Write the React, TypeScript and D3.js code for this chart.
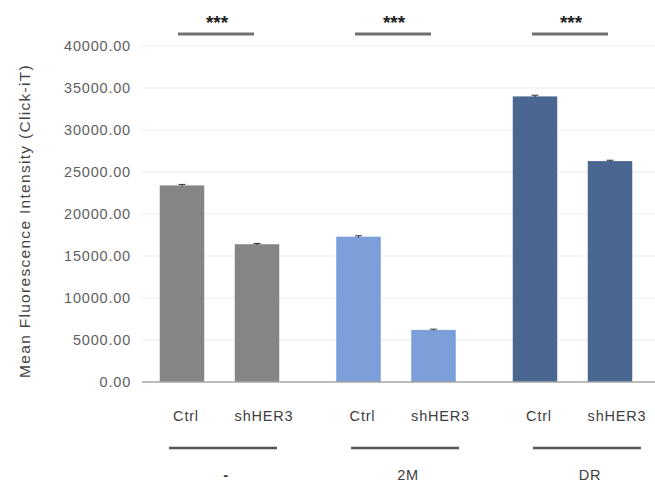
import React, { useEffect, useRef } from "react"
import * as d3 from "d3"

const groups = ["-", "2M", "DR"]
const conditions = ["Ctrl", "shHER3"]
const ctrlValues = [23400, 17300, 34000]
const shHER3Values = [16400, 6200, 26300]
const ctrlErrors = [120, 110, 140]
const shHER3Errors = [90, 90, 100]
const groupColors = ["#858585", "#7b9fd9", "#4a6792"]
const yTicks = [0, 5000, 10000, 15000, 20000, 25000, 30000, 35000, 40000]
const significance = ["***", "***", "***"]
const yLabel = "Mean Fluorescence Intensity (Click-iT)"

const W = 655
const H = 483

export default function App() {
	const ref = useRef<SVGSVGElement | null>(null)

	useEffect(() => {
		const svg = d3.select(ref.current)
		svg.selectAll("*").remove()

		const font = "Liberation Sans, Arial, sans-serif"
		const y = d3.scaleLinear().domain([0, 40000]).range([382, 46])
		const gx = d3.scalePoint().domain(groups).range([219.5, 572.5])
		const bx = d3.scaleBand().domain(conditions).range([-59.75, 59.75]).paddingInner(0.407)
		const topX = d3.scalePoint().domain(groups).range([216, 570])
		const bottomX = d3.scalePoint().domain(groups).range([223, 587])

		const data = groups.flatMap((g, i) => [
			{ group: g, cond: "Ctrl", value: ctrlValues[i], err: ctrlErrors[i], color: groupColors[i] },
			{ group: g, cond: "shHER3", value: shHER3Values[i], err: shHER3Errors[i], color: groupColors[i] },
		])

		// grid lines
		svg.append("g")
			.selectAll("line")
			.data(yTicks.filter(d => d > 0))
			.enter()
			.append("line")
			.attr("x1", 142)
			.attr("x2", W)
			.attr("y1", d => y(d))
			.attr("y2", d => y(d))
			.attr("stroke", "#ebebeb")
			.attr("stroke-width", 1)

		// tick labels
		svg.append("g")
			.selectAll("text")
			.data(yTicks)
			.enter()
			.append("text")
			.attr("x", 131)
			.attr("y", d => y(d))
			.attr("dy", "0.35em")
			.attr("text-anchor", "end")
			.attr("font-family", font)
			.attr("font-size", 14.5)
			.attr("letter-spacing", 0.8)
			.attr("fill", "#5f5f5f")
			.text(d => d3.format(".2f")(d))

		// y label
		svg.append("text")
			.attr("transform", `translate(30, ${221}) rotate(-90)`)
			.attr("text-anchor", "middle")
			.attr("font-family", font)
			.attr("font-size", 15.5)
			.attr("letter-spacing", 1.3)
			.attr("fill", "#444")
			.text(yLabel)

		// bars
		const xOf = (d: any) => (gx(d.group) as number) + (bx(d.cond) as number)
		svg.append("g")
			.selectAll("rect")
			.data(data)
			.enter()
			.append("rect")
			.attr("x", d => xOf(d))
			.attr("width", bx.bandwidth())
			.attr("y", d => y(d.value))
			.attr("height", d => y(0) - y(d.value))
			.attr("fill", d => d.color)

		// error bars
		const eb = svg.append("g").attr("stroke", "#333").attr("stroke-width", 1)
		data.forEach(d => {
			const cx = xOf(d) + bx.bandwidth() / 2
			eb.append("line").attr("x1", cx).attr("x2", cx).attr("y1", y(d.value + d.err)).attr("y2", y(d.value - d.err))
			eb.append("line").attr("x1", cx - 3.5).attr("x2", cx + 3.5).attr("y1", y(d.value + d.err)).attr("y2", y(d.value + d.err))
		})

		// baseline
		svg.append("line")
			.attr("x1", 142)
			.attr("x2", W)
			.attr("y1", y(0))
			.attr("y2", y(0))
			.attr("stroke", "#a6a6a6")
			.attr("stroke-width", 1.5)

		// category labels
		svg.append("g")
			.selectAll("text")
			.data(data)
			.enter()
			.append("text")
			.attr("x", d => xOf(d) + bx.bandwidth() / 2 + (d.cond === "Ctrl" ? 4 : 7))
			.attr("y", 421)
			.attr("text-anchor", "middle")
			.attr("font-family", font)
			.attr("font-size", 14.5)
			.attr("letter-spacing", 0.8)
			.attr("fill", "#404040")
			.text(d => d.cond)

		// group underlines and labels
		svg.append("g")
			.selectAll("line")
			.data(groups)
			.enter()
			.append("line")
			.attr("x1", d => (bottomX(d) as number) - 54)
			.attr("x2", d => (bottomX(d) as number) + 54)
			.attr("y1", 448)
			.attr("y2", 448)
			.attr("stroke", "#555")
			.attr("stroke-width", 2.5)

		svg.append("g")
			.selectAll("text")
			.data(groups)
			.enter()
			.append("text")
			.attr("x", d => (bottomX(d) as number) + 3)
			.attr("y", 480)
			.attr("text-anchor", "middle")
			.attr("font-family", font)
			.attr("font-size", 14.5)
			.attr("font-weight", d => (d === "-" ? "bold" : "normal"))
			.attr("letter-spacing", 0.8)
			.attr("fill", "#404040")
			.text(d => d)

		// significance
		svg.append("g")
			.selectAll("line")
			.data(groups)
			.enter()
			.append("line")
			.attr("x1", d => (topX(d) as number) - 38)
			.attr("x2", d => (topX(d) as number) + 38)
			.attr("y1", 34)
			.attr("y2", 34)
			.attr("stroke", "#707070")
			.attr("stroke-width", 3)

		svg.append("g")
			.selectAll("text")
			.data(groups)
			.enter()
			.append("text")
			.attr("x", d => (topX(d) as number) + 1)
			.attr("y", 29)
			.attr("text-anchor", "middle")
			.attr("font-family", font)
			.attr("font-weight", "bold")
			.attr("font-size", 19)
			.attr("fill", "#222")
			.text((d, i) => significance[i])
	}, [])

	return (
		<svg ref={ref} width={W} height={H} style={{ position: "absolute", left: 0, top: 0, background: "#fff" }} />
	)
}
